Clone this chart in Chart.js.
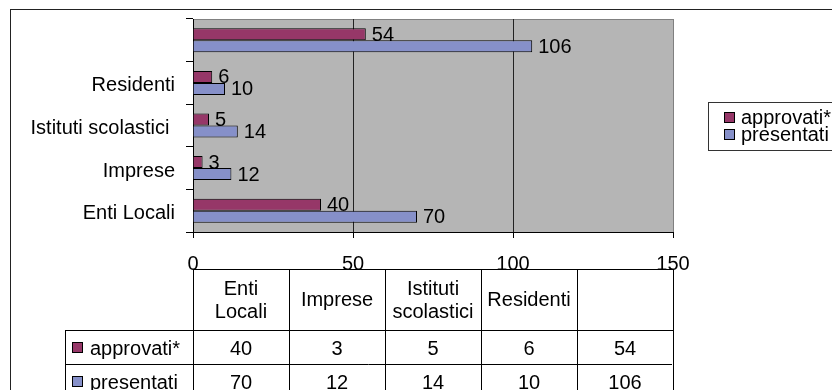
<!DOCTYPE html>
<html><head><meta charset="utf-8">
<script src="https://cdn.jsdelivr.net/npm/chart.js@4/dist/chart.umd.min.js"></script>
<style>html,body{margin:0;padding:0;background:#fff;overflow:hidden}#wrap{width:832px;height:390px;position:relative}</style>
</head><body><div id="wrap"><canvas id="c"></canvas></div>
<script>
const categories = ['Enti Locali', 'Imprese', 'Istituti scolastici ', 'Residenti', ''];
const approvati = [40, 3, 5, 6, 54];
const presentati = [70, 12, 14, 10, 106];
const seriesNames = ['approvati*', 'presentati'];
const xMin = 0, xMax = 150, xStep = 50;

const FONT_FAMILY = "'Liberation Sans', Arial, sans-serif";
const COL_APP = '#963768';
const COL_PRE = '#8690C9';
const PLOT_BG = '#B5B5B5';

function fnt(px) { return px + 'px ' + FONT_FAMILY; }

const framePlugin = {
  id: 'frame',
  beforeDraw(chart) {
    const {ctx, chartArea: a} = chart;
    ctx.save();
    ctx.fillStyle = '#fff';
    ctx.fillRect(0, 0, chart.width, chart.height);
    ctx.strokeStyle = '#222';
    ctx.lineWidth = 1;
    ctx.strokeRect(10.5, 9.5, 1000, 1000);
    ctx.fillStyle = PLOT_BG;
    ctx.fillRect(a.left, a.top, a.right - a.left, a.bottom - a.top);
    ctx.strokeStyle = '#808080';
    ctx.beginPath();
    ctx.moveTo(a.left, a.top + 0.5);
    ctx.lineTo(a.right, a.top + 0.5);
    ctx.stroke();
    ctx.restore();
  }
};

const labelPlugin = {
  id: 'valueLabels',
  afterDatasetsDraw(chart) {
    const ctx = chart.ctx;
    ctx.save();
    ctx.font = fnt(20);
    ctx.fillStyle = '#000';
    ctx.textAlign = 'left';
    ctx.textBaseline = 'middle';
    chart.data.datasets.forEach((ds, di) => {
      const meta = chart.getDatasetMeta(di);
      meta.data.forEach((bar, i) => {
        ctx.fillText(String(ds.data[i]), bar.x + 6, bar.y + 1);
      });
    });
    ctx.restore();
  }
};

const legendPlugin = {
  id: 'boxLegend',
  afterDraw(chart) {
    const ctx = chart.ctx;
    ctx.save();
    ctx.strokeStyle = '#333';
    ctx.lineWidth = 1;
    ctx.strokeRect(708.5, 102.5, 200, 48);
    ctx.font = fnt(20);
    ctx.textAlign = 'left';
    ctx.textBaseline = 'middle';
    chart.data.datasets.forEach((ds, i) => {
      const y = 118 + i * 17;
      ctx.fillStyle = ds.backgroundColor;
      ctx.fillRect(724.5, y - 5.5, 10, 10);
      ctx.strokeStyle = '#000';
      ctx.strokeRect(724.5, y - 5.5, 10, 10);
      ctx.fillStyle = '#000';
      ctx.fillText(ds.label, 741, y);
    });
    ctx.restore();
  }
};

const tablePlugin = {
  id: 'dataTable',
  afterDraw(chart) {
    const {ctx, chartArea: a} = chart;
    const n = chart.data.labels.length;
    const colW = (a.right - a.left) / n;
    const top = a.bottom + 37;
    const headH = 61, rowH = 34;
    const leftX = 65;
    const r1 = top + headH, r2 = r1 + rowH, r3 = r2 + rowH;
    ctx.save();
    ctx.strokeStyle = '#000';
    ctx.lineWidth = 1;
    const line = (x1, y1, x2, y2) => { ctx.beginPath(); ctx.moveTo(x1, y1); ctx.lineTo(x2, y2); ctx.stroke(); };
    line(a.left, top + 0.5, a.right, top + 0.5);
    line(leftX, r1 + 0.5, a.right, r1 + 0.5);
    line(leftX, r2 + 0.5, a.right - 1, r2 + 0.5);
    line(leftX, r3 + 0.5, a.right, r3 + 0.5);
    line(leftX + 0.5, r1, leftX + 0.5, r3);
    for (let i = 0; i <= n; i++) {
      const x = Math.round(a.left + i * colW) + 0.5;
      line(x, top, x, r3);
    }
    ctx.font = fnt(20);
    ctx.fillStyle = '#000';
    ctx.textAlign = 'center';
    ctx.textBaseline = 'middle';
    chart.data.labels.forEach((lab, i) => {
      const cx = a.left + (i + 0.5) * colW;
      const words = lab.trim().split(' ').filter(w => w);
      const lines = [];
      let cur = '';
      words.forEach(w => {
        const t = cur ? cur + ' ' + w : w;
        if (cur && ctx.measureText(t).width > colW - 8) { lines.push(cur); cur = w; } else cur = t;
      });
      if (cur) lines.push(cur);
      const lh = 23;
      const cy = top + headH / 2 + 1;
      lines.forEach((l, k) => {
        ctx.fillText(l, cx, cy + (k - (lines.length - 1) / 2) * lh);
      });
    });
    chart.data.datasets.forEach((ds, di) => {
      const cy = r1 + di * rowH + rowH / 2 + 2;
      ctx.fillStyle = ds.backgroundColor;
      ctx.fillRect(72.5, cy - 6.5, 10, 10);
      ctx.strokeStyle = '#000';
      ctx.strokeRect(72.5, cy - 6.5, 10, 10);
      ctx.fillStyle = '#000';
      ctx.textAlign = 'left';
      ctx.fillText(ds.label, 90, cy);
      ctx.textAlign = 'center';
      ds.data.forEach((v, i) => {
        ctx.fillText(String(v), a.left + (i + 0.5) * colW, cy);
      });
    });
    ctx.restore();
  }
};

new Chart(document.getElementById('c'), {
  type: 'bar',
  data: {
    labels: categories,
    datasets: [
      { label: seriesNames[0], data: approvati, backgroundColor: COL_APP, borderColor: '#000', borderWidth: 1 },
      { label: seriesNames[1], data: presentati, backgroundColor: COL_PRE, borderColor: '#000', borderWidth: 1 }
    ]
  },
  options: {
    indexAxis: 'y',
    responsive: true,
    maintainAspectRatio: false,
    animation: false,
    devicePixelRatio: 1,
    categoryPercentage: 0.563,
    barPercentage: 1,
    layout: { padding: { top: 19, right: 159, left: 0, bottom: 0 } },
    plugins: { legend: { display: false }, tooltip: { enabled: false }, title: { display: false } },
    scales: {
      x: {
        min: xMin, max: xMax,
        afterFit(s) { s.height = 158; s.paddingLeft = 0; s.paddingRight = 0; },
        ticks: { stepSize: xStep, color: '#000', font: { family: FONT_FAMILY, size: 20 }, padding: 14, maxRotation: 0 },
        grid: { color: (c) => (c.tick && c.tick.value === xMax ? '#808080' : '#222'), tickColor: '#000', tickLength: 6, lineWidth: 1 },
        border: { display: true, color: '#000' }
      },
      y: {
        reverse: true,
        afterFit(s) { s.width = 193; s.paddingTop = 0; s.paddingBottom = 0; },
        ticks: { color: '#000', font: { family: FONT_FAMILY, size: 20 }, padding: 11, labelOffset: 3 },
        grid: { drawOnChartArea: false, offset: true, tickLength: 7, tickColor: '#000', color: '#000' },
        border: { display: true, color: '#000' }
      }
    }
  },
  plugins: [framePlugin, labelPlugin, legendPlugin, tablePlugin]
});
</script>
</body></html>
